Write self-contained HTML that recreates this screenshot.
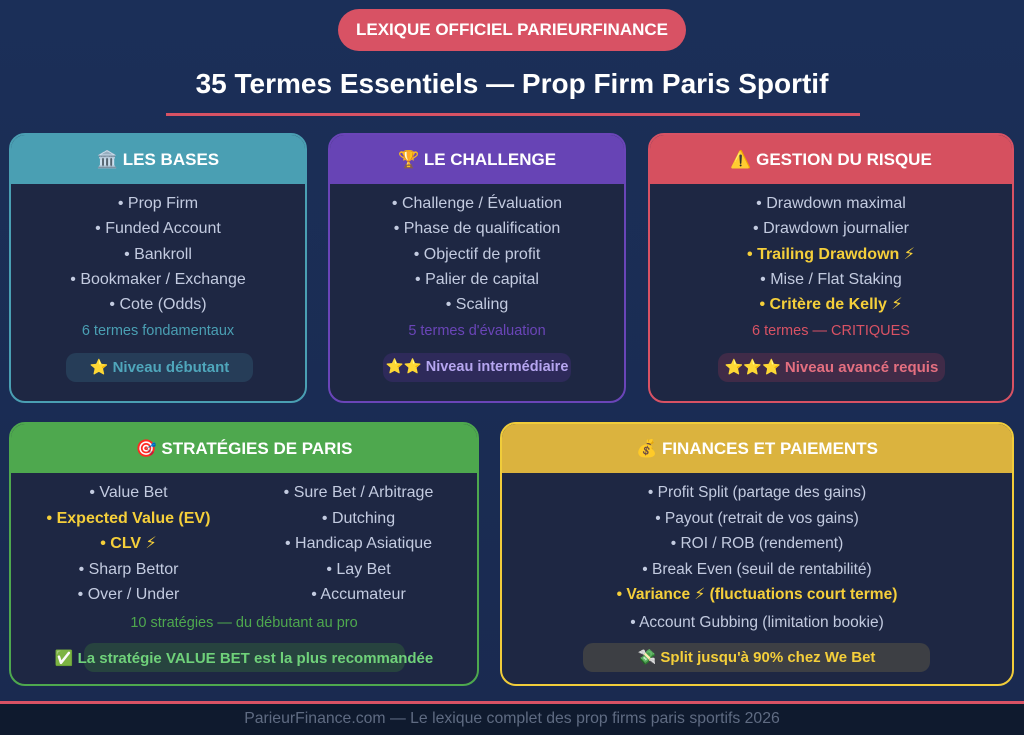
<!DOCTYPE html>
<html><head><meta charset="utf-8"><style>
*{margin:0;padding:0;box-sizing:border-box}
body{width:1024px;height:735px;overflow:hidden;background:linear-gradient(#1b2f58,#1a2a50);font-family:"Liberation Sans","DejaVu Sans",sans-serif;position:relative}
.abs{position:absolute}
.t{position:absolute;left:0;right:0;text-align:center;white-space:nowrap;line-height:20px;transform:translateY(-9px)}
.card{position:absolute;border:2px solid;border-radius:16px;background:#1e2743;overflow:hidden}
.hd{position:absolute;left:0;right:0;top:0;height:49px;color:#fff;font-weight:bold;font-size:17px;text-align:center;line-height:49px}
.it{color:#c3cbe0;font-size:16px}
.y{color:#f5cf3a;font-weight:bold;font-size:16px}
.cnt{font-size:14.5px}
.bd{position:absolute;border-radius:10px;font-weight:bold;font-size:15px;text-align:center;line-height:29px;height:29px;white-space:nowrap}
</style></head><body>
<div class="abs" style="left:338px;top:9px;width:348px;height:42px;border-radius:21px;background:#d85264;color:#fff;font-weight:bold;font-size:17px;text-align:center;line-height:42px">LEXIQUE OFFICIEL PARIEURFINANCE</div>
<div class="abs" style="left:0;width:1024px;top:64px;text-align:center;color:#fff;font-weight:bold;font-size:28px;line-height:40px">35 Termes Essentiels — Prop Firm Paris Sportif</div>
<div class="abs" style="left:166px;top:113px;width:694px;height:3px;background:#d85264"></div>

<div class="card" style="left:9px;top:133px;width:298px;height:270px;border-color:#4a9fb3">
<div class="hd" style="background:#4a9fb3">🏛️ LES BASES</div>
<div class="t it" style="top:68px">• Prop Firm</div>
<div class="t it" style="top:93px">• Funded Account</div>
<div class="t it" style="top:119px">• Bankroll</div>
<div class="t it" style="top:144px">• Bookmaker / Exchange</div>
<div class="t it" style="top:169px">• Cote (Odds)</div>
<div class="t cnt" style="top:195px;color:#4a9fb3">6 termes fondamentaux</div>
<div class="bd" style="left:55px;top:218px;width:187px;background:#263d58;color:#4fa6bb">⭐ Niveau débutant</div>
</div>

<div class="card" style="left:328px;top:133px;width:298px;height:270px;border-color:#6a45b8">
<div class="hd" style="background:#6744b5">🏆 LE CHALLENGE</div>
<div class="t it" style="top:68px">• Challenge / Évaluation</div>
<div class="t it" style="top:93px">• Phase de qualification</div>
<div class="t it" style="top:119px">• Objectif de profit</div>
<div class="t it" style="top:144px">• Palier de capital</div>
<div class="t it" style="top:169px">• Scaling</div>
<div class="t cnt" style="top:195px;color:#6a45b8">5 termes d'évaluation</div>
<div class="bd" style="left:53px;top:218px;width:188px;background:#2e2a5a;color:#b6a6f0;font-size:14.5px">⭐⭐ Niveau intermédiaire</div>
</div>

<div class="card" style="left:648px;top:133px;width:366px;height:270px;border-color:#d85264">
<div class="hd" style="background:#d6505f">⚠️ GESTION DU RISQUE</div>
<div class="t it" style="top:68px">• Drawdown maximal</div>
<div class="t it" style="top:93px">• Drawdown journalier</div>
<div class="t y" style="top:119px">• Trailing Drawdown ⚡</div>
<div class="t it" style="top:144px">• Mise / Flat Staking</div>
<div class="t y" style="top:169px">• Critère de Kelly ⚡</div>
<div class="t cnt" style="top:195px;color:#d85264">6 termes — CRITIQUES</div>
<div class="bd" style="left:68px;top:218px;width:227px;background:#402b48;color:#e46f80">⭐⭐⭐ Niveau avancé requis</div>
</div>

<div class="card" style="left:9px;top:422px;width:470px;height:264px;border-color:#4ea84e">
<div class="hd" style="background:#4ea84e">🎯 STRATÉGIES DE PARIS</div>
<div class="abs" style="left:0;width:235px;top:0;height:260px">
<div class="t it" style="top:68px">• Value Bet</div>
<div class="t y" style="top:94px">• Expected Value (EV)</div>
<div class="t y" style="top:119px">• CLV ⚡</div>
<div class="t it" style="top:145px">• Sharp Bettor</div>
<div class="t it" style="top:170px">• Over / Under</div>
</div>
<div class="abs" style="left:235px;width:225px;top:0;height:260px">
<div class="t it" style="top:68px">• Sure Bet / Arbitrage</div>
<div class="t it" style="top:94px">• Dutching</div>
<div class="t it" style="top:119px">• Handicap Asiatique</div>
<div class="t it" style="top:145px">• Lay Bet</div>
<div class="t it" style="top:170px">• Accumateur</div>
</div>
<div class="t cnt" style="top:198px;color:#4ea84e">10 stratégies — du débutant au pro</div>
<div class="bd" style="left:73px;top:219px;width:321px;background:#27433f"></div>
<div class="t" style="top:234px;color:#6fd17a;font-weight:bold;font-size:15px">✅ La stratégie VALUE BET est la plus recommandée</div>
</div>

<div class="card" style="left:500px;top:422px;width:514px;height:264px;border-color:#f0cc3a">
<div class="hd" style="background:#dbb33e">💰 FINANCES ET PAIEMENTS</div>
<div class="t it" style="top:68px;font-size:15.5px">• Profit Split (partage des gains)</div>
<div class="t it" style="top:94px;font-size:15.5px">• Payout (retrait de vos gains)</div>
<div class="t it" style="top:119px;font-size:15.5px">• ROI / ROB (rendement)</div>
<div class="t it" style="top:145px;font-size:15.5px">• Break Even (seuil de rentabilité)</div>
<div class="t y" style="top:170px;font-size:15.5px">• Variance ⚡ (fluctuations court terme)</div>
<div class="t it" style="top:198px;font-size:15.5px">• Account Gubbing (limitation bookie)</div>
<div class="bd" style="left:81px;top:219px;width:347px;background:#3d3f44;color:#f5cf3a">💸 Split jusqu'à 90% chez We Bet</div>
</div>

<div class="abs" style="left:0;top:701px;width:1024px;height:3px;background:#d85264"></div>
<div class="abs" style="left:0;top:704px;width:1024px;height:31px;background:#0f1a2e;color:#5f6b82;font-size:15.8px;text-align:center;line-height:30px">ParieurFinance.com — Le lexique complet des prop firms paris sportifs 2026</div>
</body></html>
